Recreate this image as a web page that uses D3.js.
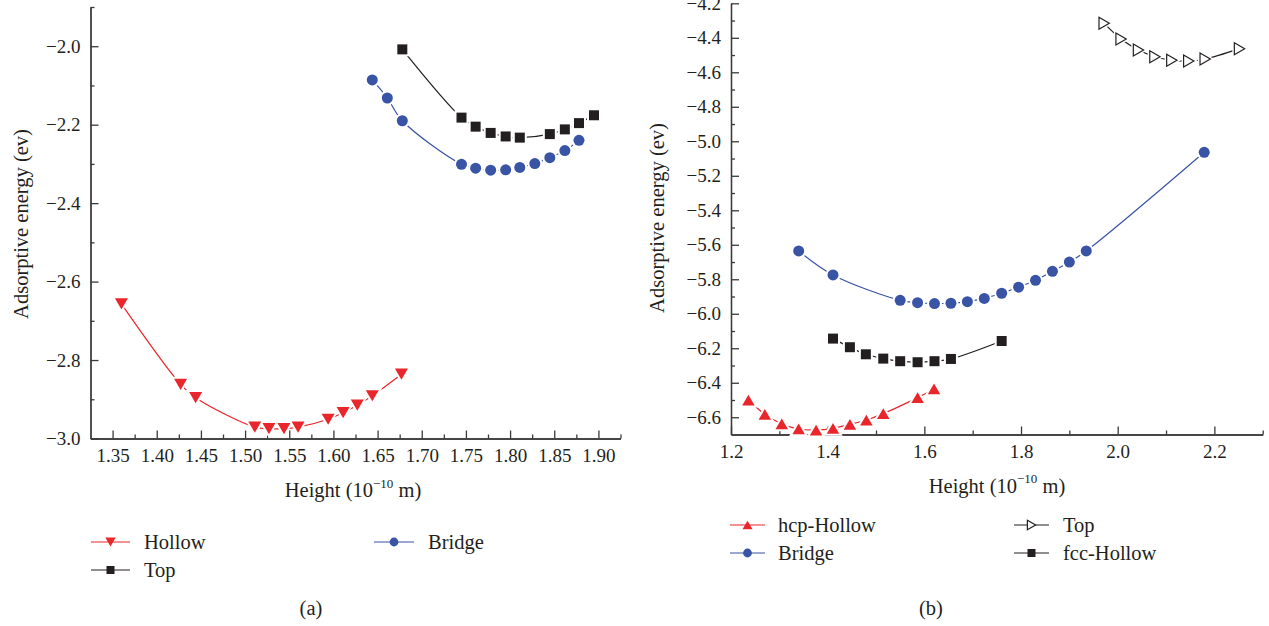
<!DOCTYPE html>
<html>
<head>
<meta charset="utf-8">
<script src="https://cdn.jsdelivr.net/npm/d3@7"></script>
<style>
body { margin: 0; background: #fff; }
svg text { font-family: "Liberation Serif", "DejaVu Serif", serif; fill: #231f20; }
.axis path, .axis line { stroke: #3a3a3a; stroke-width: 1.3; }
.axis text { font-size: 19px; }
.title { font-size: 20.5px; }
.legend text { font-size: 20.5px; }
</style>
</head>
<body>
<svg id="chart" width="1269" height="626" font-family="Liberation Serif, DejaVu Serif, serif"></svg>
<script>
// ---- panel (a): height (1e-10 m) vs adsorptive energy (ev)
const aHollow = [
  [1.360, -2.657], [1.427, -2.862], [1.444, -2.896], [1.511, -2.971],
  [1.527, -2.975], [1.544, -2.975], [1.560, -2.971], [1.594, -2.951],
  [1.611, -2.934], [1.627, -2.915], [1.644, -2.891], [1.677, -2.836]
];
const aBridge = [
  [1.644, -2.086], [1.661, -2.132], [1.678, -2.190], [1.745, -2.301],
  [1.761, -2.311], [1.778, -2.316], [1.795, -2.315], [1.811, -2.309],
  [1.828, -2.299], [1.845, -2.284], [1.862, -2.266], [1.878, -2.240]
];
const aTop = [
  [1.678, -2.008], [1.745, -2.182], [1.761, -2.205], [1.778, -2.221],
  [1.795, -2.230], [1.811, -2.233], [1.845, -2.224], [1.862, -2.212],
  [1.878, -2.196], [1.895, -2.176]
];
const aXTicks = [1.35, 1.40, 1.45, 1.50, 1.55, 1.60, 1.65, 1.70, 1.75, 1.80, 1.85, 1.90];
const aXMinor = [1.375, 1.425, 1.475, 1.525, 1.575, 1.625, 1.675, 1.725, 1.775, 1.825, 1.875, 1.925];
const aYTicks = [-3.0, -2.8, -2.6, -2.4, -2.2, -2.0];
const aYMinor = [-2.9, -2.7, -2.5, -2.3, -2.1, -1.9];

// ---- panel (b)
const bHcpHollow = [
  [1.236, -6.500], [1.270, -6.583], [1.305, -6.639], [1.340, -6.668],
  [1.376, -6.674], [1.411, -6.664], [1.446, -6.641], [1.480, -6.616],
  [1.515, -6.579], [1.586, -6.486], [1.620, -6.436]
];
const bBridge = [
  [1.340, -5.636], [1.411, -5.775], [1.550, -5.922], [1.586, -5.936],
  [1.621, -5.941], [1.655, -5.939], [1.689, -5.930], [1.724, -5.911],
  [1.760, -5.881], [1.795, -5.846], [1.830, -5.806], [1.865, -5.754],
  [1.900, -5.700], [1.935, -5.636], [2.179, -5.064]
];
const bFccHollow = [
  [1.411, -6.144], [1.446, -6.194], [1.479, -6.235], [1.515, -6.260],
  [1.550, -6.275], [1.586, -6.281], [1.621, -6.275], [1.655, -6.262],
  [1.760, -6.158]
];
const bTop = [
  [1.972, -4.316], [2.007, -4.407], [2.043, -4.471], [2.077, -4.510],
  [2.112, -4.530], [2.147, -4.535], [2.181, -4.523], [2.252, -4.463]
];
const bXTicks = [1.2, 1.4, 1.6, 1.8, 2.0, 2.2];
const bXMinor = [1.3, 1.5, 1.7, 1.9, 2.1, 2.3];
const bYTicks = [-6.6, -6.4, -6.2, -6.0, -5.8, -5.6, -5.4, -5.2, -5.0, -4.8, -4.6, -4.4, -4.2];
const bYMinor = [-6.5, -6.3, -6.1, -5.9, -5.7, -5.5, -5.3, -5.1, -4.9, -4.7, -4.5, -4.3];

const red = "#e8262b", blue = "#3953a5", black = "#231f20";

const svg = d3.select("#chart");

function shapePath(shape, size) {
  const r = size / 2, h = size * 0.86;
  if (shape === "down") return `M${-r},${-h / 2}L${r},${-h / 2}L0,${h / 2}Z`;
  if (shape === "up") return `M${-r},${h / 2}L${r},${h / 2}L0,${-h / 2}Z`;
  if (shape === "right") return `M${-h / 2},${-r}L${h / 2},0L${-h / 2},${r}Z`;
  if (shape === "square") return `M${-r},${-r}h${size}v${size}h${-size}Z`;
  return d3.symbol(d3.symbolCircle, Math.PI * r * r)();
}

function drawMarkers(g, pts, s, px, py, size) {
  // white halo first so the line stops short of each marker
  g.append("g").selectAll("path").data(pts).enter().append("path")
    .attr("d", shapePath(s.shape, size))
    .attr("transform", d => `translate(${px(d)},${py(d)})`)
    .attr("fill", "#fff").attr("stroke", "#fff").attr("stroke-width", 4);
  g.append("g").selectAll("path").data(pts).enter().append("path")
    .attr("d", shapePath(s.shape, size))
    .attr("transform", d => `translate(${px(d)},${py(d)})`)
    .attr("fill", s.open ? "#fff" : s.color)
    .attr("stroke", s.open ? s.color : "none")
    .attr("stroke-width", 1.2);
}

function drawPanel(p) {
  const x = d3.scaleLinear().domain(p.xDomain).range(p.xRange);
  const y = d3.scaleLinear().domain(p.yDomain).range(p.yRange);
  const g = svg.append("g");

  const fmtY = d3.format(".1f");
  g.append("g").attr("class", "axis").attr("transform", `translate(0,${p.yRange[0]})`)
    .call(d3.axisBottom(x).tickValues(p.xMinor).tickSizeInner(-4).tickSizeOuter(0).tickFormat(""));
  g.append("g").attr("class", "axis").attr("transform", `translate(0,${p.yRange[0]})`)
    .call(d3.axisBottom(x).tickValues(p.xTicks).tickSizeInner(-8).tickSizeOuter(0)
      .tickPadding(10).tickFormat(d3.format(p.xFmt)))
    .attr("font-size", null).attr("font-family", null);
  g.append("g").attr("class", "axis").attr("transform", `translate(${p.xRange[0]},0)`)
    .call(d3.axisLeft(y).tickValues(p.yMinor).tickSizeInner(-4).tickSizeOuter(0).tickFormat(""));
  g.append("g").attr("class", "axis").attr("transform", `translate(${p.xRange[0]},0)`)
    .call(d3.axisLeft(y).tickValues(p.yTicks).tickSizeInner(-8).tickSizeOuter(0)
      .tickPadding(10).tickFormat(fmtY))
    .attr("font-size", null).attr("font-family", null);

  const line = d3.line().x(d => x(d[0])).y(d => y(d[1])).curve(d3.curveCatmullRom.alpha(0.5));
  p.series.forEach(s => {
    g.append("path").datum(s.data).attr("d", line)
      .attr("fill", "none").attr("stroke", s.color).attr("stroke-width", 1.2);
  });
  p.series.forEach(s => drawMarkers(g, s.data, s, d => x(d[0]), d => y(d[1]), s.size));

  // axis titles
  const xt = g.append("text").attr("class", "title").attr("text-anchor", "middle")
    .attr("x", p.xTitle[0]).attr("y", p.xTitle[1]);
  xt.append("tspan").text("Height (10");
  xt.append("tspan").attr("font-size", "13px").attr("dy", -9.5).text("\u221210");
  xt.append("tspan").attr("dy", 9.5).text(" m)");
  g.append("text").attr("class", "title").attr("text-anchor", "middle")
    .attr("transform", `translate(${p.yTitle[0]},${p.yTitle[1]}) rotate(-90)`)
    .attr("dy", "0.35em").text("Adsorptive energy (ev)");

  // legend
  const lg = g.append("g").attr("class", "legend");
  p.legend.forEach(e => {
    lg.append("line").attr("x1", e.x0).attr("x2", e.x1).attr("y1", e.y).attr("y2", e.y)
      .attr("stroke", e.s.color).attr("stroke-width", 1.2);
    lg.append("path").attr("d", shapePath(e.s.shape, e.s.size * 0.8))
      .attr("transform", `translate(${(e.x0 + e.x1) / 2},${e.y})`)
      .attr("fill", e.s.open ? "#fff" : e.s.color)
      .attr("stroke", e.s.open ? e.s.color : "none").attr("stroke-width", 1.2);
    lg.append("text").attr("x", e.tx).attr("y", e.y).attr("dy", "0.33em").text(e.label);
  });

  g.append("text").attr("class", "title").attr("text-anchor", "middle")
    .attr("x", p.caption[0]).attr("y", p.caption[1]).attr("dy", "0.35em").text(p.caption[2]);
}

const sAHollow = { data: aHollow, color: red, shape: "down", size: 13 };
const sABridge = { data: aBridge, color: blue, shape: "circle", size: 11 };
const sATop = { data: aTop, color: black, shape: "square", size: 10 };

drawPanel({
  xDomain: [1.325, 1.925], xRange: [90.5, 620.5],
  yDomain: [-3.0, -1.9], yRange: [438.5, 7],
  xTicks: aXTicks, xMinor: aXMinor, yTicks: aYTicks, yMinor: aYMinor, xFmt: ".2f",
  series: [sAHollow, sABridge, sATop],
  xTitle: [353, 497], yTitle: [21, 224],
  legend: [
    { label: "Hollow", s: sAHollow, x0: 91, x1: 130, y: 542, tx: 144 },
    { label: "Top", s: sATop, x0: 91, x1: 130, y: 570, tx: 144 },
    { label: "Bridge", s: sABridge, x0: 374, x1: 414, y: 542, tx: 428 }
  ],
  caption: [311, 608, "(a)"]
});

const sBHcp = { data: bHcpHollow, color: red, shape: "up", size: 12.5 };
const sBBridge = { data: bBridge, color: blue, shape: "circle", size: 11 };
const sBFcc = { data: bFccHollow, color: black, shape: "square", size: 10 };
const sBTop = { data: bTop, color: black, shape: "right", size: 12, open: true };

drawPanel({
  xDomain: [1.2, 2.3], xRange: [731, 1262.7],
  yDomain: [-6.7, -4.2], yRange: [434.5, 3.3],
  xTicks: bXTicks, xMinor: bXMinor, yTicks: bYTicks, yMinor: bYMinor, xFmt: ".1f",
  series: [sBHcp, sBBridge, sBFcc, sBTop],
  xTitle: [997, 492.5], yTitle: [657, 218],
  legend: [
    { label: "hcp-Hollow", s: sBHcp, x0: 730, x1: 765, y: 525, tx: 778 },
    { label: "Bridge", s: sBBridge, x0: 730, x1: 765, y: 553, tx: 778 },
    { label: "Top", s: sBTop, x0: 1014, x1: 1049, y: 525, tx: 1063 },
    { label: "fcc-Hollow", s: sBFcc, x0: 1014, x1: 1049, y: 553, tx: 1063 }
  ],
  caption: [931, 608, "(b)"]
});
</script>
</body>
</html>
